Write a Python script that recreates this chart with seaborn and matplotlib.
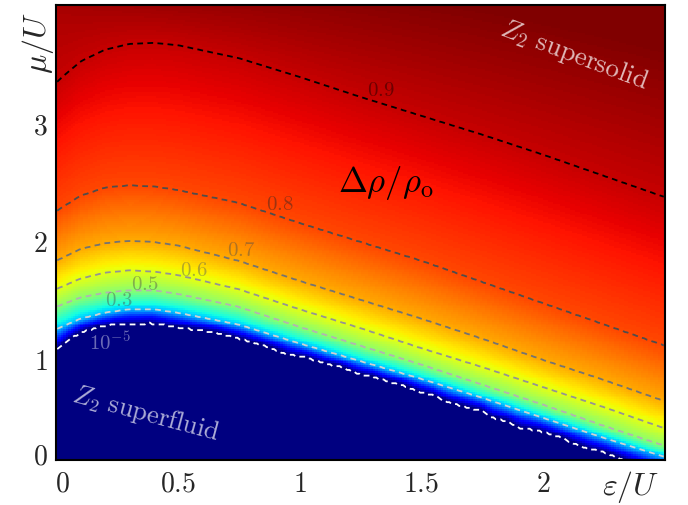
import numpy as np
import pandas as pd
import matplotlib
matplotlib.use("Agg")
import matplotlib.pyplot as plt
from matplotlib.transforms import ScaledTranslation
import seaborn as sns

# ---------------- data ----------------
eps_nodes = [0.0, 0.1, 0.2, 0.3, 0.4, 0.5, 0.75, 1.0, 1.25, 1.5, 1.75, 2.0, 2.25, 2.5]
mu_lvl_03 = [1.25, 1.34, 1.39, 1.42, 1.42, 1.39, 1.29, 1.13, 0.98, 0.83, 0.67, 0.50, 0.33, 0.17]
mu_lvl_05 = [1.44, 1.52, 1.56, 1.58, 1.58, 1.55, 1.44, 1.27, 1.11, 0.95, 0.78, 0.61, 0.43, 0.26]
mu_lvl_06 = [1.59, 1.68, 1.73, 1.75, 1.74, 1.71, 1.59, 1.42, 1.26, 1.09, 0.93, 0.76, 0.59, 0.41]
mu_lvl_07 = [1.83, 1.93, 1.98, 2.00, 1.99, 1.96, 1.83, 1.66, 1.50, 1.34, 1.17, 0.99, 0.82, 0.64]
mu_lvl_08 = [2.25, 2.38, 2.45, 2.47, 2.46, 2.43, 2.32, 2.15, 1.99, 1.83, 1.65, 1.47, 1.29, 1.11]
mu_lvl_09 = [3.34, 3.52, 3.62, 3.67, 3.68, 3.66, 3.55, 3.39, 3.22, 3.06, 2.90, 2.73, 2.55, 2.37]
top_values = [0.925, 0.928, 0.930, 0.932, 0.934, 0.936, 0.940, 0.945, 0.950, 0.955, 0.960, 0.965, 0.970, 0.975]

# superfluid edge (Δρ/ρo = 1e-5), jagged
eps_edge = [0.0, 0.05, 0.11, 0.18, 0.25, 0.39, 0.55, 0.66, 0.77, 0.87, 0.96, 1.03, 1.10, 1.17,
            1.24, 1.30, 1.37, 1.43, 1.49, 1.55, 1.61, 1.70, 1.75, 1.79, 1.85, 1.91, 1.98,
            2.06, 2.12, 2.18, 2.25, 2.32, 2.5]
mu_edge = [1.08, 1.17, 1.24, 1.28, 1.30, 1.31, 1.26, 1.23, 1.17, 1.11, 1.04, 1.02, 0.97, 0.94,
           0.88, 0.86, 0.81, 0.78, 0.73, 0.70, 0.64, 0.59, 0.57, 0.51, 0.48, 0.42, 0.40,
           0.35, 0.30, 0.25, 0.22, 0.16, 0.02]

contour_levels = [1e-5, 0.3, 0.5, 0.6, 0.7, 0.8, 0.9]
contour_texts = [r"$10^{-5}$", r"$0.3$", r"$0.5$", r"$0.6$", r"$0.7$", r"$0.8$", r"$0.9$"]
contour_grays = [1.0, 0.82, 0.70, 0.58, 0.45, 0.30, 0.0]
label_grays = [1.0, 0.30, 0.30, 0.35, 0.30, 0.15, 0.0]
label_alphas = [0.42, 0.45, 0.45, 0.45, 0.45, 0.45, 0.42]
label_eps = [0.222, 0.259, 0.365, 0.565, 0.76, 0.92, 1.335]
label_mu = [1.15, 1.50, 1.64, 1.76, 1.93, 2.32, 3.28]

xtick_vals = [0, 0.5, 1, 1.5, 2]
xtick_texts = ["$0$", "$0.5$", "$1$", "$1.5$", "$2$"]
ytick_vals = [1, 2, 3]
ytick_texts = ["$1$", "$2$", "$3$"]

eps_min, eps_max = 0.0, 2.5
mu_min, mu_max = 0.144, 4.0

# ---------------- build the field from the read contours ----------------
nx, ny = 250, 240
deps = (eps_max - eps_min) / nx
dmu = (mu_max - mu_min) / ny
eps_c = eps_min + (np.arange(nx) + 0.5) * deps
mu_c = mu_min + (np.arange(ny) + 0.5) * dmu

curves = [mu_lvl_03, mu_lvl_05, mu_lvl_06, mu_lvl_07, mu_lvl_08, mu_lvl_09]
Z = np.zeros((ny, nx))
for j, e in enumerate(eps_c):
    m_edge = np.interp(e, eps_edge, mu_edge)
    pos = [m_edge - 1e-3, m_edge] + [np.interp(e, eps_nodes, c) for c in curves] + [mu_max]
    val = [0.0, 1e-5, 0.3, 0.5, 0.6, 0.7, 0.8, 0.9, np.interp(e, eps_nodes, top_values)]
    Z[:, j] = np.interp(mu_c, pos, val)

df = pd.DataFrame(Z, index=np.round(mu_c, 4), columns=np.round(eps_c, 4))

# ---------------- plot ----------------
sns.set_theme(style="ticks")
plt.rcParams["mathtext.fontset"] = "cm"
plt.rcParams["font.family"] = ["DejaVu Serif"]

fig = plt.figure(figsize=(6.88, 5.06), dpi=100)
ax = fig.add_axes([56 / 688, 45 / 506, (665 - 56) / 688, (461 - 6) / 506])

sns.heatmap(df, cmap="jet", vmin=0.0, vmax=0.96, cbar=False, ax=ax,
            xticklabels=False, yticklabels=False, rasterized=True)
ax.set_xlim(0, nx)
ax.set_ylim(0, ny)


def xi(e):
    return (np.asarray(e) - eps_min) / deps


def yi(m):
    return (np.asarray(m) - mu_min) / dmu


XX, YY = np.meshgrid(xi(eps_c), yi(mu_c))
line_cols = [(g, g, g) for g in contour_grays]
ax.contour(XX, YY, Z, levels=contour_levels, colors=line_cols,
           linewidths=1.3, linestyles=[(0, (3.2, 2.4))])

for t, e, m, g, a in zip(contour_texts, label_eps, label_mu, label_grays, label_alphas):
    ax.text(xi(e), yi(m), t, color=(g, g, g), alpha=a, fontsize=15,
            ha="center", va="center")

ax.text(0.542, 0.611, r"$\Delta\rho/\rho_\mathrm{o}$", transform=ax.transAxes,
        fontsize=25, color="black", ha="center", va="center")
ax.text(0.851, 0.892, r"$Z_2\ \mathrm{supersolid}$", transform=ax.transAxes,
        fontsize=19.5, color="white", alpha=0.72, rotation=-20.5,
        ha="center", va="center", rotation_mode="anchor")
ax.text(0.148, 0.103, r"$Z_2\ \mathrm{superfluid}$", transform=ax.transAxes,
        fontsize=19, color="white", alpha=0.68, rotation=-15,
        ha="center", va="center", rotation_mode="anchor")

fig.text(38 / 688, 1 - 43 / 506, r"$\mu/U$", fontsize=23, rotation=90,
         ha="center", va="center")
fig.text(631 / 688, 1 - 487 / 506, r"$\varepsilon/U$", fontsize=23,
         ha="center", va="center")

# ticks
ax.set_xticks(xi(xtick_vals))
ax.set_xticklabels(xtick_texts)
ax.set_xticks(xi([0.25, 0.75, 1.25, 1.75, 2.25]), minor=True)
ax.set_yticks(list(yi([mu_min])) + list(yi(ytick_vals)))
ax.set_yticklabels(["$0$"] + ytick_texts)
ax.set_yticks(yi([0.5, 1.5, 2.5, 3.5]), minor=True)
ax.tick_params(which="both", direction="in", top=True, right=True,
               labelsize=20, color="black", width=1.1)
ax.tick_params(which="major", length=5, pad=6)
ax.tick_params(which="minor", length=2.5)
ax.tick_params(axis="x", which="major", pad=7)

for s in ax.spines.values():
    s.set_visible(True)
    s.set_linewidth(1.5)
    s.set_color("black")

# nudge the "0" labels (they sit slightly inside the corner in the reference)
offx = ScaledTranslation(6 / 100, 0, fig.dpi_scale_trans)
offy = ScaledTranslation(0, 7 / 100, fig.dpi_scale_trans)
ax.get_xticklabels()[0].set_transform(ax.get_xticklabels()[0].get_transform() + offx)
ax.get_yticklabels()[0].set_transform(ax.get_yticklabels()[0].get_transform() + offy)

fig.savefig("out.png", dpi=100, facecolor="white")
